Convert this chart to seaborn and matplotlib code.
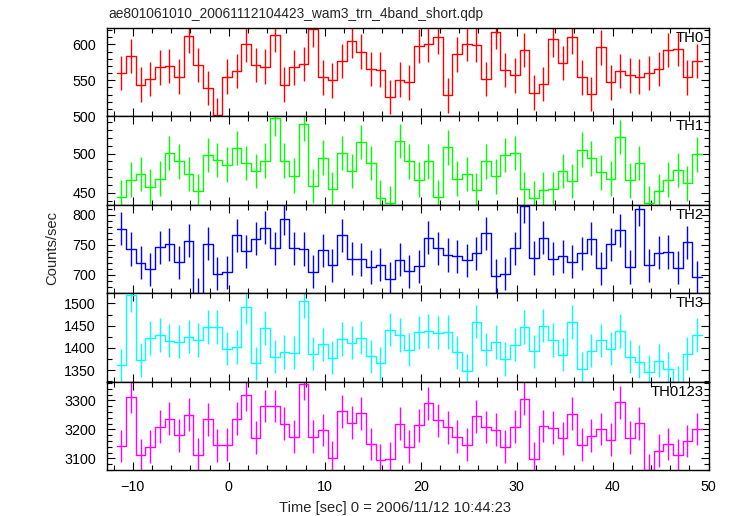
import numpy as np
import pandas as pd
import matplotlib
matplotlib.use("Agg")
import matplotlib.pyplot as plt
import seaborn as sns
from matplotlib.ticker import MultipleLocator
from matplotlib import font_manager

# ---- data (1 s bins, centre times) ----
time = np.round(np.arange(61) - 11.2, 2)

th0 = [560, 584, 544, 552, 568, 570, 555, 612, 571, 539,
       501, 555, 563, 600, 571, 569, 613, 544, 568, 573,
       621, 554, 550, 577, 605, 590, 566, 565, 527, 551,
       547, 598, 600, 610, 529, 586, 601, 599, 552, 617,
       564, 557, 592, 533, 545, 607, 574, 610, 554, 531,
       596, 547, 563, 557, 555, 560, 566, 592, 594, 554,
       577]
th1 = [445, 467, 474, 458, 468, 501, 490, 474, 452, 498,
       492, 486, 507, 488, 478, 491, 545, 491, 472, 538,
       459, 495, 455, 501, 478, 515, 488, 444, 437, 516,
       490, 467, 490, 445, 508, 468, 474, 453, 490, 471,
       498, 501, 455, 443, 454, 455, 478, 465, 505, 494,
       476, 468, 521, 466, 488, 437, 452, 467, 479, 462,
       499]
th2 = [777, 743, 720, 709, 746, 751, 721, 757, 668, 752,
       702, 704, 766, 739, 760, 778, 744, 793, 744, 743,
       705, 741, 716, 766, 727, 726, 713, 717, 693, 725,
       706, 714, 762, 744, 733, 731, 724, 736, 769, 698,
       702, 744, 814, 728, 762, 727, 731, 722, 736, 760,
       711, 751, 774, 713, 809, 716, 737, 738, 712, 754,
       696]
th3 = [1361, 1518, 1373, 1422, 1429, 1416, 1414, 1425, 1418, 1447,
       1447, 1398, 1402, 1492, 1365, 1445, 1380, 1391, 1389, 1505,
       1387, 1408, 1378, 1420, 1412, 1423, 1381, 1365, 1441, 1429,
       1396, 1435, 1438, 1434, 1436, 1390, 1348, 1459, 1396, 1413,
       1375, 1407, 1447, 1392, 1450, 1418, 1385, 1458, 1353, 1394,
       1417, 1398, 1438, 1380, 1369, 1346, 1371, 1353, 1322, 1387,
       1429]
th0123 = [3143, 3312, 3112, 3140, 3210, 3237, 3180, 3251, 3113, 3235,
          3145, 3147, 3237, 3319, 3172, 3281, 3281, 3220, 3175, 3357,
          3175, 3198, 3102, 3262, 3223, 3256, 3150, 3093, 3099, 3220,
          3140, 3214, 3290, 3232, 3207, 3175, 3147, 3245, 3208, 3199,
          3140, 3209, 3306, 3099, 3212, 3206, 3169, 3254, 3147, 3178,
          3202, 3164, 3294, 3171, 3221, 3058, 3127, 3150, 3112, 3160,
          3201]

band_names = ["TH0", "TH1", "TH2", "TH3", "TH0123"]
band_values = [th0, th1, th2, th3, th0123]
band_errors = [24.0, 22.0, 27.5, 37.5, 56.5]       # half-length of error bars
band_colors = ["#ff0000", "#00ff00", "#0000ff", "#00ffff", "#ff00ff"]
band_ylims = [(500, 623.3), (434.9, 547.7), (669.4, 816.7), (1324, 1523), (3059, 3365)]
band_major = [50, 50, 50, 50, 100]
band_minor = [10, 10, 10, 25, 20]

title = "ae801061010_20061112104423_wam3_trn_4band_short.qdp"
xlabel = "Time [sec] 0 = 2006/11/12 10:44:23"
ylabel = "Counts/sec"

# ---- style ----
sns.set_style("ticks")
installed = {f.name for f in font_manager.fontManager.ttflist}
if "Liberation Sans Narrow" in installed:
    plt.rcParams["font.family"] = ["Liberation Sans Narrow", "DejaVu Sans"]
    fs_title, fs_lab, fs_tick, fs_name = 12.2, 12.8, 12.5, 13.0
else:
    plt.rcParams["font.family"] = ["Liberation Sans", "DejaVu Sans"]
    fs_title, fs_lab, fs_tick, fs_name = 9.9, 10.6, 10.3, 10.7

W, H = 731, 516
fig = plt.figure(figsize=(W / 100, H / 100), dpi=100)

left_px, right_px = 107, 708.5
top_px, panel_h = 27.7, 88.5

axes = []
for i, (name, vals, err, col, ylim, mj, mn) in enumerate(
        zip(band_names, band_values, band_errors, band_colors, band_ylims, band_major, band_minor)):
    y0 = top_px + panel_h * (i + 1)
    ax = fig.add_axes([left_px / W, 1 - y0 / H, (right_px - left_px) / W, panel_h / H])
    vals = np.asarray(vals, dtype=float)
    edges = np.append(time - 0.5, time[-1] + 0.5)
    df = pd.DataFrame({"t": edges, "rate": np.append(vals, vals[-1])})
    sns.lineplot(data=df, x="t", y="rate", drawstyle="steps-post", color=col,
                 lw=1.0, ax=ax, legend=False)
    ax.errorbar(time, vals, yerr=err, fmt="none", ecolor=col, elinewidth=1.0)
    ax.set_xlim(-12.7, 50.0)
    ax.set_ylim(*ylim)
    ax.xaxis.set_major_locator(MultipleLocator(10))
    ax.xaxis.set_minor_locator(MultipleLocator(2))
    ax.yaxis.set_major_locator(MultipleLocator(mj))
    ax.yaxis.set_minor_locator(MultipleLocator(mn))
    ax.tick_params(which="both", direction="in", top=True, right=True,
                   colors="black", labelsize=fs_tick, width=0.8)
    ax.tick_params(which="major", length=6)
    ax.tick_params(which="minor", length=3.5)
    ax.tick_params(axis="y", pad=8)
    for sp in ax.spines.values():
        sp.set_visible(True)
        sp.set_color("black")
        sp.set_linewidth(1.0)
    ax.set_xlabel("")
    ax.set_ylabel("")
    if i < 4:
        ax.tick_params(axis="x", labelbottom=False)
    ax.text(0.992, 0.965, name, transform=ax.transAxes, ha="right", va="top",
            fontsize=fs_name, color="black")
    axes.append(ax)

axes[-1].tick_params(axis="x", pad=7)

fig.text(108 / W, 1 - 14 / H, title, ha="left", va="center", fontsize=fs_title)
fig.text(395 / W, 1 - 508 / H, xlabel, ha="center", va="center", fontsize=fs_lab)
fig.text(52 / W, 1 - 248 / H, ylabel, ha="center", va="center", rotation=90, fontsize=fs_lab)

fig.savefig("out.png", dpi=100, facecolor="white")
